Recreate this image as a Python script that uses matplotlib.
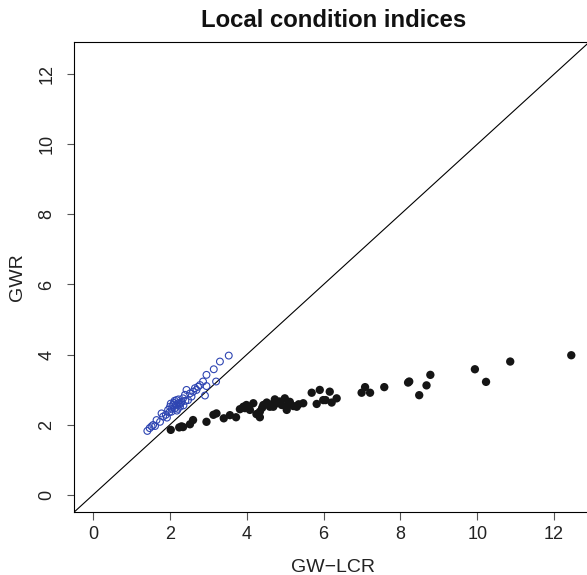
import matplotlib
matplotlib.use("Agg")
import matplotlib.pyplot as plt
import numpy as np

plt.rcParams['font.family'] = ['Liberation Sans', 'DejaVu Sans']

# GW-LCR (x) vs GWR (y) local condition indices
black_x = [2.02, 2.24, 2.30, 2.34, 2.52, 2.60, 2.95, 3.13, 3.21, 3.40, 3.56, 3.72,
           3.82, 3.91, 3.99, 4.08, 4.17, 4.34, 4.34, 4.43, 4.52, 4.60, 4.73, 4.69,
           4.78, 4.91, 4.99, 5.04, 5.12, 5.21, 5.30, 5.47, 5.69, 5.90, 5.82, 5.99,
           6.16, 6.21, 6.34, 6.99, 7.08, 7.21, 7.58, 8.23, 8.20, 8.49, 8.68, 8.78,
           9.94, 10.23, 10.86, 12.45, 4.40, 4.65, 4.85, 5.08, 5.35, 4.25, 3.95, 6.05]
black_y = [1.85, 1.92, 1.95, 1.93, 2.01, 2.13, 2.08, 2.28, 2.32, 2.18, 2.27, 2.21,
           2.44, 2.51, 2.56, 2.42, 2.61, 2.21, 2.37, 2.56, 2.63, 2.51, 2.72, 2.51,
           2.61, 2.56, 2.75, 2.42, 2.65, 2.53, 2.51, 2.61, 2.91, 2.99, 2.59, 2.70,
           2.94, 2.63, 2.75, 2.91, 3.07, 2.91, 3.07, 3.23, 3.20, 2.84, 3.12, 3.42,
           3.58, 3.22, 3.80, 3.98, 2.48, 2.58, 2.66, 2.58, 2.58, 2.30, 2.47, 2.70]

blue_x = [1.41, 1.47, 1.52, 1.56, 1.61, 1.65, 1.74, 1.78, 1.82, 1.89, 1.95, 2.00,
          2.04, 2.08, 2.13, 2.17, 2.21, 2.26, 2.30, 2.34, 2.39, 2.43, 2.47, 2.52,
          2.56, 2.60, 2.65, 2.69, 2.73, 2.78, 2.86, 2.95, 2.95, 3.14, 3.20, 3.30,
          3.53, 2.91, 2.02, 2.10, 2.15, 2.20, 2.25, 2.05, 1.98, 2.12, 2.28, 2.35,
          2.18, 2.40, 2.22, 1.92]
blue_y = [1.82, 1.90, 1.95, 1.99, 1.96, 2.13, 2.08, 2.32, 2.23, 2.28, 2.42, 2.51,
          2.37, 2.56, 2.47, 2.70, 2.61, 2.51, 2.65, 2.75, 2.85, 2.99, 2.70, 2.89,
          2.80, 2.94, 3.04, 2.99, 3.08, 3.13, 3.23, 3.10, 3.42, 3.58, 3.23, 3.80,
          3.97, 2.83, 2.60, 2.62, 2.55, 2.45, 2.58, 2.45, 2.35, 2.68, 2.62, 2.55,
          2.40, 2.68, 2.72, 2.20]

x_ticks = [0, 2, 4, 6, 8, 10, 12]
y_ticks = [0, 2, 4, 6, 8, 10, 12]

W, H = 587, 575
fig = plt.figure(figsize=(W / 100, H / 100), dpi=100)
left_px, right_px, top_px, bot_px = 74, 592.4, 42, 512
ax = fig.add_axes([left_px / W, (H - bot_px) / H, (right_px - left_px) / W, (bot_px - top_px) / H])

ax.set_xlim(-0.5, 13.0)
ax.set_ylim(-0.494, 12.92)

ax.plot([-1, 20], [-1, 20], color='black', lw=0.8, zorder=1)
ax.scatter(black_x, black_y, s=36, color='#151515', edgecolors='none', zorder=3)
ax.scatter(blue_x, blue_y, s=24, facecolors='none', edgecolors='#2e45b2', linewidths=0.8, zorder=4)

ax.set_xticks(x_ticks)
ax.set_yticks(y_ticks)
ax.tick_params(direction='out', length=5.4, width=0.8, colors='#555555', labelcolor='#222222', labelsize=13)
ax.tick_params(axis='x', pad=5)
ax.tick_params(axis='y', pad=8)
for lab in ax.get_yticklabels():
    lab.set_rotation(90)
    lab.set_verticalalignment('center')

for s in ax.spines.values():
    s.set_linewidth(0.8)
    s.set_color('black')

ax.set_xlabel('GW\u2212LCR', fontsize=14, labelpad=11, color='#222222')
ax.set_ylabel('GWR', fontsize=14, labelpad=9, color='#222222')
ax.set_title('Local condition indices', fontsize=17.2, fontweight='bold', pad=11, color='#111111')

fig.savefig('out.png', dpi=100)
